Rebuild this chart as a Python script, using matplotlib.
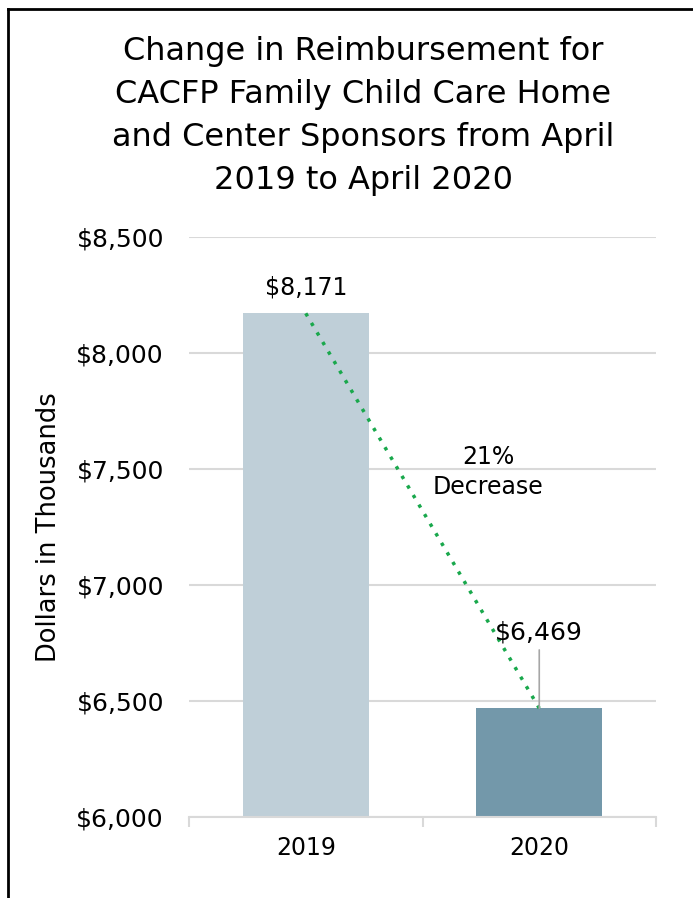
import matplotlib.pyplot as plt
from matplotlib.lines import Line2D

years = ['2019', '2020']
values = [8171, 6469]
value_labels = ['$8,171', '$6,469']
change_label = '21%\nDecrease'
yticks = [6000, 6500, 7000, 7500, 8000, 8500]

W, H = 693, 898
fig = plt.figure(figsize=(W / 100, H / 100), dpi=100)
plt.rcParams['font.family'] = ['DejaVu Sans']

# axes placed in pixel coords
l, r, t, b = 189, 656, 237, 817
ax = fig.add_axes([l / W, 1 - b / H, (r - l) / W, (b - t) / H])

x = list(range(len(years)))
ax.bar(x, values, width=0.54, color=['#bfcfd8', '#7398aa'], zorder=2)
ax.set_xlim(-0.5, 1.5)
ax.set_ylim(6000, 8500)
ax.set_yticks(yticks)
ax.set_yticklabels([f'${v:,}' for v in yticks], fontsize=18)
ax.yaxis.grid(True, color='#d9d9d9', linewidth=1.5, zorder=0)
ax.tick_params(axis='y', length=0, pad=18)

ax.set_xticks(x)
ax.set_xticklabels(years, fontsize=17)
ax.set_xticks([-0.5, 0.5, 1.5], minor=True)
ax.tick_params(axis='x', which='major', length=0, pad=14)
ax.tick_params(axis='x', which='minor', length=7, color='#d9d9d9', width=1.5)

for s in ['top', 'right', 'left']:
    ax.spines[s].set_visible(False)
ax.spines['bottom'].set_color('#d9d9d9')
ax.spines['bottom'].set_linewidth(1.5)

ax.set_ylabel('Dollars in Thousands', fontsize=18.5, labelpad=10)

# green dotted change line between bar tops
ax.plot(x, values, linestyle=(0, (1, 2.2)), color='#19a84c', linewidth=2.5,
        zorder=3)

# value labels
ax.text(x[0], values[0] + 60, value_labels[0], ha='center', va='bottom',
        fontsize=17, zorder=4)
ax.annotate(value_labels[1], xy=(x[1], values[1]), xytext=(x[1], values[1] + 275),
            ha='center', va='bottom', fontsize=18, zorder=4,
            arrowprops=dict(arrowstyle='-', color='#a6a6a6', lw=1.2,
                            shrinkA=2, shrinkB=0))
ax.text(0.78, 7487, change_label, ha='center', va='center', fontsize=17,
        linespacing=1.27, zorder=4)

fig.text(363 / W, 1 - 116 / H,
         'Change in Reimbursement for\nCACFP Family Child Care Home\n'
         'and Center Sponsors from April\n2019 to April 2020',
         ha='center', va='center', fontsize=23, linespacing=1.51)

# frame lines (top and left)
fig.add_artist(Line2D([8 / W, 8 / W], [0, 1 - 9 / H], color='black', lw=2,
                      transform=fig.transFigure))
fig.add_artist(Line2D([8 / W, 1], [1 - 9 / H, 1 - 9 / H], color='black', lw=2,
                      transform=fig.transFigure))

fig.savefig('out.png', dpi=100)
